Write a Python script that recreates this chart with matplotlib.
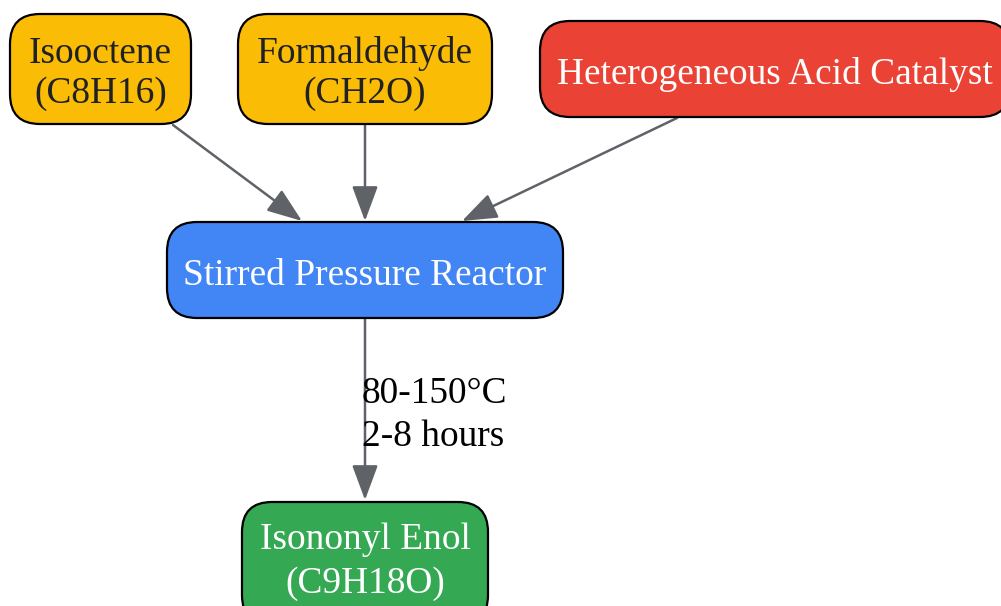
import matplotlib
matplotlib.use("Agg")
import matplotlib.pyplot as plt
from matplotlib.patches import FancyBboxPatch, FancyArrowPatch

plt.rcParams['font.family'] = ['Liberation Serif', 'DejaVu Serif']

# node text
node_names = ['Isooctene', 'Formaldehyde', 'Heterogeneous Acid Catalyst',
              'Stirred Pressure Reactor', 'Isononyl Enol']
node_formulas = ['(C8H16)', '(CH2O)', '', '', '(C9H18O)']
node_colors = ['#FBBC05', '#FBBC05', '#EA4335', '#4285F4', '#34A853']
text_colors = ['#202124', '#202124', 'white', 'white', 'white']

# edges (source index, target index)
edges = [(0, 3), (1, 3), (2, 3), (3, 4)]
edge_labels = ['', '', '', '80-150°C\n2-8 hours']

# layout in pixels: x0, y0, x1, y1 of each box
boxes = [(10, 14, 191, 124),
         (238, 14, 492, 124),
         (540, 21, 1010, 117),
         (167, 222, 563, 318),
         (242, 502, 488, 625)]
# edge endpoints: start, tip
edge_pts = [((173, 125), (302, 221)),
            ((365, 125), (365, 221)),
            ((677, 118), (462, 221)),
            ((365, 319), (365, 500))]

W, H = 1001, 606
fig = plt.figure(figsize=(W / 100, H / 100), dpi=100)
ax = fig.add_axes([0, 0, 1, 1])
ax.set_xlim(0, W)
ax.set_ylim(H, 0)
ax.axis('off')

fs = 26.9  # ~37 px

for i, (x0, y0, x1, y1) in enumerate(boxes):
    box = FancyBboxPatch((x0, y0), x1 - x0, y1 - y0,
                         boxstyle="round,pad=0,rounding_size=30",
                         facecolor=node_colors[i], edgecolor='black',
                         linewidth=1.6, zorder=2)
    ax.add_patch(box)
    cx = (x0 + x1) / 2
    if node_formulas[i]:
        if i == 4:
            base1, base2 = 549, 593
        else:
            cy = (y0 + y1) / 2
            base1, base2 = cy - 6, cy + 34
        ax.text(cx, base1, node_names[i], ha='center', va='baseline',
                fontsize=fs, color=text_colors[i], zorder=3)
        ax.text(cx, base2, node_formulas[i], ha='center', va='baseline',
                fontsize=fs, color=text_colors[i], zorder=3)
    else:
        cy = (y0 + y1) / 2
        ax.text(cx, cy + 15, node_names[i], ha='center', va='baseline',
                fontsize=fs, color=text_colors[i], zorder=3)

for k, (s, t) in enumerate(edges):
    p0, p1 = edge_pts[k]
    arr = FancyArrowPatch(p0, p1, arrowstyle='-|>,head_length=1.08,head_width=0.4',
                          mutation_scale=20, color='#5F6368', linewidth=1.8,
                          shrinkA=0, shrinkB=0, zorder=1)
    ax.add_patch(arr)
    if edge_labels[k]:
        lines = edge_labels[k].split('\n')
        for j, line in enumerate(lines):
            ax.text(362, 403 + 43 * j, line, ha='left', va='baseline',
                    fontsize=fs, color='black', zorder=3)

fig.savefig('out.png', dpi=100)
